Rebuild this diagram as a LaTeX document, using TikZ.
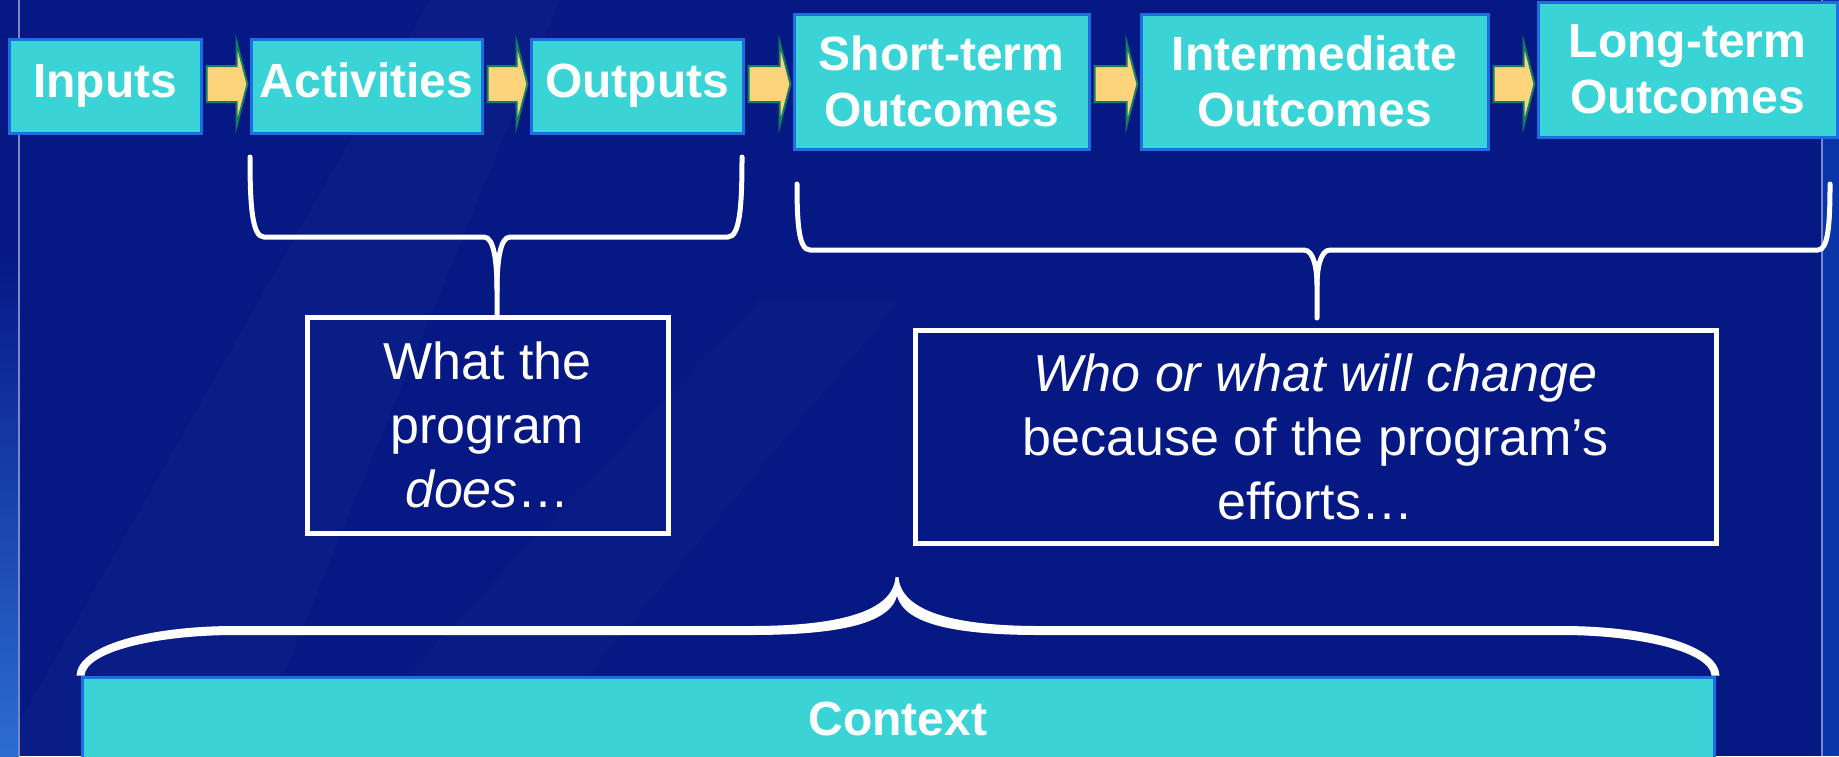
\documentclass[tikz,border=0pt]{standalone}
\usepackage{fontspec}
\setmainfont{Liberation Sans}
\usetikzlibrary{calc,positioning}

\definecolor{slide}{HTML}{051884}
\definecolor{slidelight}{HTML}{2C6DD2}
\definecolor{slideright}{HTML}{0A35A8}
\definecolor{rail}{HTML}{7A88C6}
\definecolor{boxfill}{HTML}{3BD4D6}
\definecolor{boxedge}{HTML}{1C6FE0}
\definecolor{arrowfill}{HTML}{FDD37B}
\definecolor{arrowedge}{HTML}{11805C}

\tikzset{
	x=0.5pt,
	y=-0.5pt,
	stage/.style={
		draw=boxedge,
		line width=1.5pt,
		fill=boxfill,
		text=white,
		align=center,
		inner sep=0pt,
		font=\fontsize{24}{28}\selectfont\bfseries
	},
	note/.style={
		draw=white,
		line width=2.5pt,
		text=white,
		align=center,
		inner sep=0pt,
		font=\fontsize{26}{32}\selectfont
	}
}

% block arrow from one stage to the next, on the flow line
\newcommand{\flowarrow}[2]{%
	\draw[flow] ($(#1.east |- flowline)+(4,-18)$) -- ($(#2.west |- flowline)+(-13,-18)$)
		-- ++(0,-24) -- ($(#2.west |- flowline)+(-2,0)$)
		-- ($(#2.west |- flowline)+(-13,42)$) -- ++(0,-24)
		-- ($(#1.east |- flowline)+(4,18)$) -- cycle;}

\begin{document}
\begin{tikzpicture}
	\tikzset{
		flow/.style={fill=arrowfill, draw=arrowedge, line width=1pt, line join=miter},
		brace/.style={draw=white, line width=2.5pt, line cap=round}
	}
	\useasboundingbox (0,0) rectangle (1839,756);

	% backdrop
	\fill[slide] (0,0) rectangle (1839,756);
	\fill[white,opacity=0.025] (0,756) -- (250,756) -- (560,0) -- (430,0) -- cycle;
	\fill[white,opacity=0.02] (330,756) -- (520,756) -- (900,300) -- (760,300) -- cycle;
	\shade[top color=slide, bottom color=slidelight] (0,250) rectangle (19,756);
	\fill[slide] (0,0) rectangle (19,250);
	\fill[slideright] (1822,0) rectangle (1839,756);
	\draw[rail, line width=1pt] (19,0) -- (19,756);
	\draw[rail, line width=1pt] (1822,0) -- (1822,756);

	\coordinate (flowline) at (0,84);

	% stages
	\node[stage, minimum width=96pt, minimum height=47pt] (inputs) at (105,86) {\strut Inputs};
	\node[stage, minimum width=115.5pt, minimum height=47pt] (acts) at (366.5,86) {\strut Activities};
	\node[stage, minimum width=106pt, minimum height=47pt] (outs) at (637,86) {\strut Outputs};
	\node[stage, minimum width=147.5pt, minimum height=67.5pt] (short) at (941.5,81.5) {Short-term\\Outcomes};
	\node[stage, minimum width=173.5pt, minimum height=67.5pt] (inter) at (1314.5,81.5) {Intermediate\\Outcomes};
	\node[stage, minimum width=149.5pt, minimum height=67.5pt] (long) at (1687.5,69.5) {Long-term\\Outcomes};

	\flowarrow{inputs}{acts}
	\flowarrow{acts}{outs}
	\flowarrow{outs}{short}
	\flowarrow{short}{inter}
	\flowarrow{inter}{long}

	% explanations
	\node[note, minimum width=180.5pt, minimum height=108pt] (does) at (487.5,425)
		{What the\\program\\\textit{does}…};
	\node[note, minimum width=400.5pt, minimum height=106.5pt] (change) at (1315.5,436.5)
		{\textit{Who or what will change}\\because of the program’s\\efforts…};

	\node[stage, minimum width=816pt, minimum height=41.5pt] (ctx) at (898,718.5) {Context};

	% braces over the stages
	\coordinate (doesl) at (250,157);
	\coordinate (doesr) at (742,157);
	\coordinate (doestip) at (497,290);
	\draw[brace] (doesl) .. controls (250,205) and (252,237) .. (264,237) -- (484,237)
		.. controls (494,237) and (497,262) .. (doestip) -- (doestip |- does.north);
	\draw[brace] (doesr) .. controls (742,205) and (740,237) .. (728,237) -- (510,237)
		.. controls (500,237) and (497,262) .. (doestip);

	\coordinate (changel) at (797,184);
	\coordinate (changer) at (1830,184);
	\coordinate (changetip) at (1317,285);
	\draw[brace] (changel) .. controls (797,225) and (799,250) .. (810,250) -- (1304,250)
		.. controls (1314,250) and (1317,270) .. (changetip) -- (1317,318);
	\draw[brace] (changer) .. controls (1830,225) and (1828,250) .. (1818,250) -- (1330,250)
		.. controls (1320,250) and (1317,270) .. (changetip);

	% brace over the context bar
	\fill[white] ($(ctx.north west)+(-4,0)$) .. controls (78,645) and (150,626) .. (235,626) -- (750,626)
		.. controls (838,626) and (893,612) .. (895.5,577) -- (898.5,577)
		.. controls (901,612) and (956,626) .. (1040,626) -- (1562,626)
		.. controls (1647,626) and (1718,645) .. ($(ctx.north east)+(4,0)$)
		-- ($(ctx.north east)+(-4,0)$) .. controls (1710,652) and (1640,635) .. (1562,635) -- (1040,635)
		.. controls (958,635) and (905,625) .. (897,596)
		.. controls (889,625) and (834,635) .. (750,635) -- (235,635)
		.. controls (155,635) and (86,652) .. ($(ctx.north west)+(4,0)$) -- cycle;
\end{tikzpicture}
\end{document}
